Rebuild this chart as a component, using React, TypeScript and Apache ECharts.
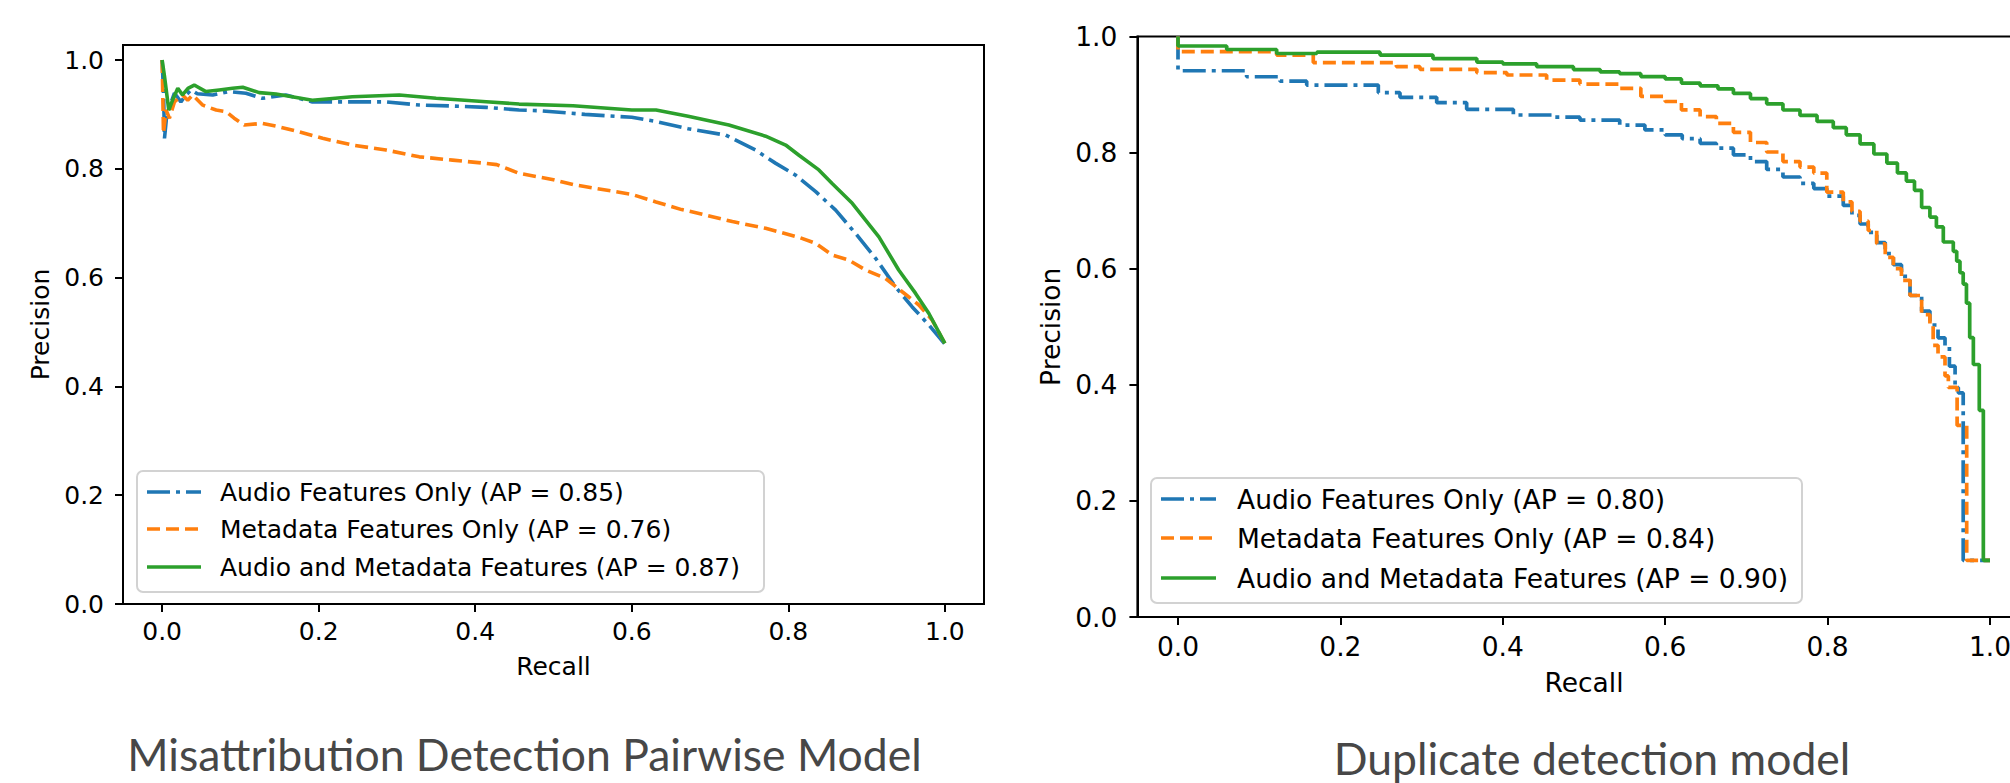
import React, { useEffect, useRef } from "react";
import * as echarts from "echarts";

// ---------- data ----------
const TICK_VALUES = [0, 0.2, 0.4, 0.6, 0.8, 1.0];

const LEFT_TITLE = "Misattribution Detection Pairwise Model";
const RIGHT_TITLE = "Duplicate detection model";
const X_NAME = "Recall";
const Y_NAME = "Precision";

const LEFT_LABELS = [
  "Audio Features Only (AP = 0.85)",
  "Metadata Features Only (AP = 0.76)",
  "Audio and Metadata Features (AP = 0.87)",
];
const RIGHT_LABELS = [
  "Audio Features Only (AP = 0.80)",
  "Metadata Features Only (AP = 0.84)",
  "Audio and Metadata Features (AP = 0.90)",
];

// Left chart: [recall, precision]
const LEFT_AUDIO = [
  [0, 1.0], [0.002, 0.93], [0.003, 0.856], [0.006, 0.9], [0.0157, 0.939], [0.024, 0.923],
  [0.03, 0.935], [0.037, 0.945], [0.045, 0.938], [0.0646, 0.9357], [0.085, 0.942], [0.107, 0.939],
  [0.128, 0.9296], [0.158, 0.9357], [0.192, 0.923], [0.243, 0.923], [0.286, 0.923], [0.3285, 0.9173],
  [0.371, 0.9154], [0.4136, 0.913], [0.456, 0.908], [0.4845, 0.9066], [0.54, 0.9], [0.6, 0.8947],
  [0.631, 0.887], [0.672, 0.8736], [0.72, 0.862], [0.758, 0.8346], [0.784, 0.81], [0.809, 0.7886],
  [0.835, 0.758], [0.8605, 0.724], [0.886, 0.681], [0.9115, 0.6355], [0.937, 0.583], [0.958, 0.5465],
  [0.9796, 0.5129], [1.0, 0.478],
];
const LEFT_META = [
  [0, 1.0], [0.0017, 0.865], [0.005, 0.908], [0.0093, 0.893], [0.0157, 0.923], [0.026, 0.9357],
  [0.0327, 0.926], [0.039, 0.9357], [0.052, 0.917], [0.069, 0.908], [0.0817, 0.905], [0.092, 0.893],
  [0.105, 0.8805], [0.128, 0.8836], [0.15, 0.877], [0.175, 0.868], [0.205, 0.856], [0.243, 0.8437],
  [0.286, 0.8346], [0.3285, 0.822], [0.371, 0.816], [0.4136, 0.81], [0.4275, 0.8077], [0.456, 0.7917],
  [0.5, 0.78], [0.525, 0.771], [0.6, 0.753], [0.631, 0.739], [0.6637, 0.725], [0.686, 0.718],
  [0.7285, 0.703], [0.771, 0.6906], [0.8136, 0.674], [0.835, 0.663], [0.856, 0.6415], [0.8775, 0.632],
  [0.8988, 0.614], [0.924, 0.5987], [0.9455, 0.574], [0.9668, 0.5496], [0.9838, 0.522], [1.0, 0.479],
];
const LEFT_BOTH = [
  [0, 1.0], [0.003, 0.97], [0.0085, 0.908], [0.013, 0.925], [0.02, 0.948], [0.026, 0.936],
  [0.033, 0.948], [0.041, 0.954], [0.056, 0.942], [0.073, 0.945], [0.09, 0.948], [0.103, 0.95],
  [0.124, 0.94], [0.1455, 0.9375], [0.192, 0.926], [0.243, 0.9325], [0.303, 0.9357], [0.35, 0.9296],
  [0.414, 0.9234], [0.456, 0.919], [0.525, 0.9158], [0.6, 0.908], [0.631, 0.908], [0.672, 0.8965],
  [0.724, 0.8805], [0.771, 0.86], [0.7966, 0.8437], [0.8136, 0.825], [0.839, 0.798], [0.856, 0.773],
  [0.8817, 0.7366], [0.9157, 0.675], [0.941, 0.614], [0.9626, 0.571], [0.9796, 0.534], [1.0, 0.479],
];

// Right chart (step curves): [recall, precision]
const RIGHT_AUDIO = [
  [0, 1.0], [0.0845, 0.941], [0.1256, 0.9307], [0.1585, 0.923], [0.2467, 0.9164], [0.2734, 0.9033],
  [0.3186, 0.8953], [0.3555, 0.886], [0.413, 0.8746], [0.462, 0.8648], [0.495, 0.861], [0.544, 0.856],
  [0.575, 0.8475], [0.6, 0.839], [0.621, 0.8305], [0.643, 0.824], [0.663, 0.816], [0.684, 0.8076],
  [0.705, 0.796], [0.725, 0.7845], [0.745, 0.771], [0.766, 0.758], [0.783, 0.747], [0.799, 0.738],
  [0.8193, 0.725], [0.83, 0.709], [0.84, 0.692], [0.85, 0.677], [0.8605, 0.6625], [0.871, 0.645],
  [0.881, 0.626], [0.891, 0.607], [0.9015, 0.5867], [0.9158, 0.5538], [0.926, 0.527], [0.936, 0.503],
  [0.9446, 0.481], [0.95, 0.4655], [0.957, 0.432], [0.961, 0.3955], [0.967, 0.386], [1.0, 0.0975],
];
const RIGHT_META = [
  [0, 1.0], [0.1215, 0.9738], [0.1666, 0.968], [0.269, 0.955], [0.298, 0.948], [0.368, 0.9435],
  [0.405, 0.9377], [0.454, 0.9337], [0.495, 0.925], [0.544, 0.918], [0.57, 0.9108], [0.6, 0.8967],
  [0.62, 0.888], [0.643, 0.8735], [0.663, 0.862], [0.684, 0.8505], [0.705, 0.835], [0.725, 0.8174],
  [0.745, 0.801], [0.766, 0.7845], [0.783, 0.775], [0.799, 0.7647], [0.8193, 0.7318], [0.83, 0.715],
  [0.84, 0.6987], [0.85, 0.682], [0.8605, 0.6658], [0.871, 0.643], [0.881, 0.6196], [0.891, 0.6],
  [0.9015, 0.58], [0.9158, 0.5538], [0.926, 0.5208], [0.93, 0.501], [0.936, 0.468], [0.9446, 0.448],
  [0.9487, 0.4153], [0.9595, 0.3955], [0.9713, 0.33], [1.0, 0.0975],
];
const RIGHT_BOTH = [
  [0, 1.0], [0.06, 0.9836], [0.1215, 0.9776], [0.171, 0.9707], [0.2488, 0.973], [0.314, 0.968],
  [0.368, 0.962], [0.4, 0.956], [0.4417, 0.953], [0.487, 0.948], [0.52, 0.943], [0.544, 0.939],
  [0.57, 0.936], [0.6, 0.931], [0.62, 0.927], [0.643, 0.9197], [0.665, 0.915], [0.684, 0.9097],
  [0.705, 0.902], [0.725, 0.893], [0.745, 0.884], [0.766, 0.8734], [0.787, 0.864], [0.807, 0.8537],
  [0.823, 0.843], [0.84, 0.8307], [0.857, 0.815], [0.873, 0.7976], [0.886, 0.782], [0.897, 0.765],
  [0.907, 0.751], [0.9158, 0.735], [0.926, 0.7054], [0.934, 0.689], [0.9425, 0.672], [0.9548, 0.646],
  [0.959, 0.63], [0.963, 0.613], [0.967, 0.593], [0.971, 0.5736], [0.975, 0.5406], [0.9795, 0.4813],
  [0.9868, 0.435], [0.9918, 0.356], [1.0, 0.0975],
];

// ---------- styles ----------
const COLORS = ["#1f77b4", "#ff7f0e", "#2ca02c"];
const DASHES: any[] = [[23, 6, 4, 6], [13, 6], "solid"];
const FONT = "DejaVu Sans";
const TITLE_FONT = "Lato";

function axisCommon(fontSize: number, margin: number) {
  return {
    type: "value",
    splitLine: { show: false },
    axisLine: { show: true, onZero: false, lineStyle: { color: "#000", width: 2 } },
    axisTick: { show: true, length: 8, lineStyle: { color: "#000", width: 2 }, customValues: TICK_VALUES },
    axisLabel: {
      customValues: TICK_VALUES,
      formatter: (v: number) => v.toFixed(1),
      fontSize,
      fontFamily: FONT,
      color: "#000",
      margin,
    },
    nameLocation: "middle",
    nameTextStyle: { fontSize, fontFamily: FONT, color: "#000" },
  };
}

function legendGraphic(
  x: number, y: number, w: number, h: number,
  rowsY: number[], sampleX1: number, sampleX2: number, textX: number,
  labels: string[], fontSize: number, lw: number
) {
  const children: any[] = [
    {
      type: "rect",
      shape: { x, y, width: w, height: h, r: 6 },
      style: { fill: "rgba(255,255,255,0.8)", stroke: "#d2d2d2", lineWidth: 2 },
    },
  ];
  labels.forEach((label, i) => {
    children.push({
      type: "line",
      shape: { x1: sampleX1, y1: rowsY[i], x2: sampleX2, y2: rowsY[i] },
      style: {
        stroke: COLORS[i],
        lineWidth: lw,
        lineDash: Array.isArray(DASHES[i]) ? DASHES[i] : null,
      },
    });
    children.push({
      type: "text",
      x: textX,
      y: rowsY[i],
      style: {
        text: label,
        fontSize,
        fontFamily: FONT,
        fill: "#000",
        align: "left",
        verticalAlign: "middle",
      },
    });
  });
  return { type: "group", z: 100, children };
}

export default function App() {
  const ref = useRef<HTMLDivElement>(null);

  useEffect(() => {
    if (!ref.current) return;
    document.body.style.margin = "0";
    const chart = echarts.init(ref.current, null, { renderer: "svg" });

    const leftFs = 25;
    const rightFs = 26.5;

    const mkSeries = (data: number[][], i: number, name: string, gi: number, step: any, lw: number) => ({
      type: "line",
      name,
      xAxisIndex: gi,
      yAxisIndex: gi,
      data,
      step,
      symbol: "none",
      showSymbol: false,
      clip: true,
      z: 2 + i,
      lineStyle: { color: COLORS[i], width: lw, type: DASHES[i] },
      itemStyle: { color: COLORS[i] },
    });

    const option: any = {
      animation: false,
      backgroundColor: "#fff",
      grid: [
        {
          left: 123, top: 45, width: 861, height: 559,
          show: true, borderColor: "#000", borderWidth: 2, backgroundColor: "transparent",
          containLabel: false, outerBoundsMode: "none",
        },
        {
          left: 1137.4, top: 36.5, width: 893.2, height: 580.5,
          show: true, borderColor: "#000", borderWidth: 2, backgroundColor: "transparent",
          containLabel: false, outerBoundsMode: "none",
        },
      ],
      xAxis: [
        { ...axisCommon(leftFs, 15), gridIndex: 0, min: -0.05, max: 1.05, name: X_NAME, nameGap: 50 },
        { ...axisCommon(rightFs, 16), gridIndex: 1, min: -0.05, max: 1.05, name: X_NAME, nameGap: 52 },
      ],
      yAxis: [
        { ...axisCommon(leftFs, 19), gridIndex: 0, min: 0, max: 1.0276, name: Y_NAME, nameGap: 70, nameRotate: 90 },
        { ...axisCommon(rightFs, 20), gridIndex: 1, min: 0, max: 1.0, name: Y_NAME, nameGap: 73, nameRotate: 90 },
      ],
      series: [
        mkSeries(LEFT_AUDIO, 0, LEFT_LABELS[0], 0, false, 3.6),
        mkSeries(LEFT_META, 1, LEFT_LABELS[1], 0, false, 3.6),
        mkSeries(LEFT_BOTH, 2, LEFT_LABELS[2], 0, false, 3.6),
        mkSeries(RIGHT_AUDIO, 0, RIGHT_LABELS[0], 1, "start", 3.7),
        mkSeries(RIGHT_META, 1, RIGHT_LABELS[1], 1, "start", 3.7),
        mkSeries(RIGHT_BOTH, 2, RIGHT_LABELS[2], 1, "start", 3.7),
      ],
      graphic: [
        legendGraphic(137, 471, 627, 121, [492, 529, 567], 147, 201, 220, LEFT_LABELS, leftFs, 3.6),
        legendGraphic(1151, 478, 651, 125, [499, 538, 578], 1161, 1216, 1237, RIGHT_LABELS, rightFs, 3.7),
        {
          type: "text",
          x: 524.5,
          y: 753,
          style: {
            text: LEFT_TITLE,
            fontSize: 44.5,
            fontFamily: TITLE_FONT,
            fill: "#474747",
            align: "center",
            verticalAlign: "middle",
          },
        },
        {
          type: "text",
          x: 1592,
          y: 757,
          style: {
            text: RIGHT_TITLE,
            fontSize: 44.5,
            fontFamily: TITLE_FONT,
            fill: "#474747",
            align: "center",
            verticalAlign: "middle",
          },
        },
      ],
    };

    chart.setOption(option);
    return () => chart.dispose();
  }, []);

  return (
    <div
      ref={ref}
      style={{ position: "absolute", left: 0, top: 0, width: 2010, height: 783, background: "#fff" }}
    />
  );
}
